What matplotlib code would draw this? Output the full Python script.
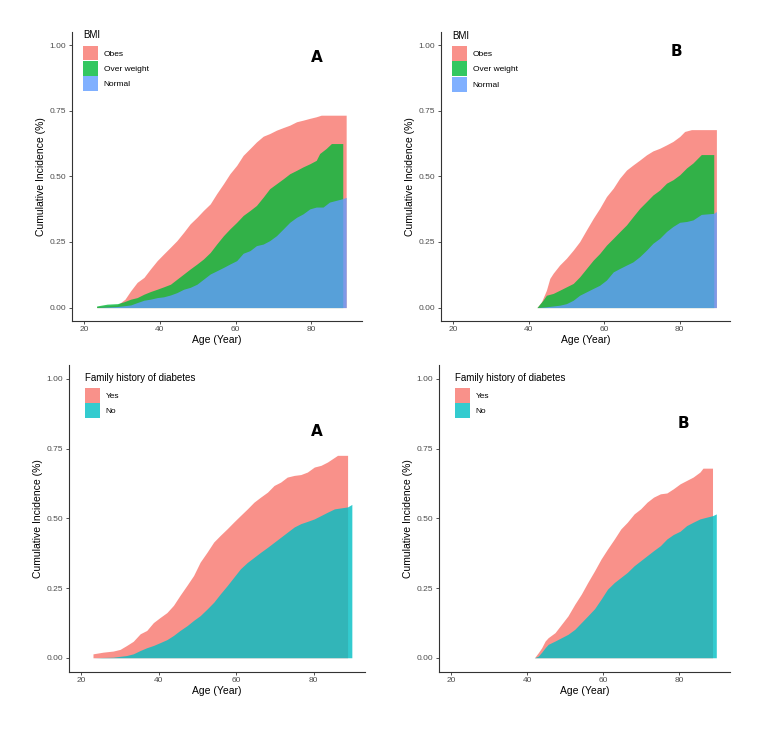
import matplotlib
matplotlib.use("Agg")
from matplotlib import pyplot as plt
from matplotlib.patches import Patch

plt.rcParams['font.family'] = ['Liberation Sans', 'DejaVu Sans']

# ---- data ----
# top left, BMI, panel A
age_obes_a = [23.3, 28.8, 30.8, 32.3, 34.0, 35.8, 37.5, 39.3, 41.0, 42.8, 44.5, 46.3, 48.0, 49.8, 51.5,
              53.3, 55.0, 56.8, 58.5, 60.3, 62.0, 63.8, 65.5, 67.3, 69.0, 70.8, 72.6, 74.3, 76.1, 77.8,
              79.6, 81.3, 82.6, 89.2]
obes_a = [0.004, 0.010, 0.032, 0.064, 0.096, 0.115, 0.147, 0.179, 0.204, 0.230, 0.255, 0.287, 0.319,
          0.344, 0.370, 0.395, 0.434, 0.472, 0.510, 0.542, 0.580, 0.606, 0.631, 0.653, 0.663, 0.676,
          0.686, 0.695, 0.708, 0.714, 0.721, 0.727, 0.733, 0.733]
age_over_a = [23.3, 26.1, 28.8, 30.5, 32.3, 34.0, 35.8, 37.5, 39.3, 41.0, 42.8, 44.5, 46.3, 48.0, 49.8,
              51.5, 53.3, 55.0, 56.8, 58.5, 60.3, 62.0, 63.8, 65.5, 67.3, 69.0, 70.8, 72.6, 74.3, 76.1,
              77.8, 79.6, 81.3, 82.2, 83.9, 85.3, 88.3]
over_a = [0.006, 0.013, 0.015, 0.022, 0.032, 0.038, 0.051, 0.061, 0.070, 0.079, 0.089, 0.108, 0.128,
          0.147, 0.166, 0.185, 0.210, 0.242, 0.274, 0.300, 0.325, 0.351, 0.370, 0.389, 0.421, 0.453,
          0.472, 0.491, 0.510, 0.523, 0.536, 0.548, 0.561, 0.587, 0.606, 0.625, 0.625]
age_norm_a = [23.3, 28.8, 32.3, 34.0, 35.8, 37.5, 39.3, 41.0, 42.8, 44.5, 46.3, 48.0, 49.8, 51.5, 53.3,
              55.0, 56.8, 58.5, 60.3, 62.0, 63.8, 65.5, 67.3, 69.0, 70.8, 72.6, 74.3, 76.1, 77.8, 79.6,
              81.3, 83.1, 84.8, 88.3, 89.2]
norm_a = [0.0, 0.004, 0.010, 0.019, 0.028, 0.032, 0.038, 0.041, 0.048, 0.057, 0.070, 0.077, 0.089,
          0.108, 0.128, 0.140, 0.153, 0.166, 0.179, 0.207, 0.217, 0.236, 0.242, 0.255, 0.274, 0.300,
          0.325, 0.344, 0.357, 0.376, 0.383, 0.383, 0.402, 0.415, 0.420]

# top right, BMI, panel B
age_obes_b = [42.2, 43.4, 44.7, 45.6, 46.5, 48.2, 50.0, 51.8, 53.5, 55.3, 57.1, 58.8, 60.6, 62.4, 64.1,
              65.9, 67.6, 69.4, 71.2, 72.9, 74.7, 76.5, 78.2, 80.0, 81.3, 83.1, 89.7]
obes_b = [0.0, 0.022, 0.066, 0.111, 0.131, 0.162, 0.188, 0.219, 0.251, 0.296, 0.340, 0.378, 0.423,
          0.455, 0.493, 0.524, 0.543, 0.562, 0.582, 0.597, 0.607, 0.620, 0.633, 0.652, 0.671, 0.678, 0.678]
age_over_b = [42.2, 43.8, 44.7, 46.5, 48.2, 50.0, 51.8, 53.5, 55.3, 57.1, 58.8, 60.6, 62.4, 64.1, 65.9,
              67.6, 69.4, 71.2, 72.9, 74.7, 76.5, 78.2, 80.0, 81.8, 83.5, 85.7, 89.0]
over_b = [0.0, 0.028, 0.047, 0.054, 0.066, 0.079, 0.092, 0.117, 0.149, 0.181, 0.206, 0.238, 0.264,
          0.289, 0.315, 0.346, 0.378, 0.404, 0.429, 0.448, 0.474, 0.487, 0.506, 0.532, 0.551, 0.583, 0.583]
age_norm_b = [42.2, 44.7, 48.2, 50.0, 51.8, 53.5, 55.3, 57.1, 58.8, 60.6, 62.4, 64.1, 65.9, 67.6, 69.4,
              71.2, 72.9, 74.7, 76.5, 78.2, 80.0, 81.8, 83.5, 85.7, 89.0, 89.7]
norm_b = [0.0, 0.003, 0.009, 0.015, 0.028, 0.047, 0.060, 0.073, 0.085, 0.105, 0.136, 0.149, 0.162,
          0.174, 0.194, 0.219, 0.245, 0.264, 0.290, 0.309, 0.325, 0.328, 0.334, 0.355, 0.359, 0.366]

# bottom left, family history, panel A
age_yes_a = [23.0, 25.6, 28.2, 30.0, 31.7, 33.4, 35.2, 36.9, 38.6, 40.3, 42.1, 43.8, 45.5, 47.3, 49.0,
             50.7, 52.5, 54.2, 55.9, 57.7, 59.4, 61.1, 62.9, 64.6, 66.3, 68.1, 69.8, 71.5, 73.2, 75.0,
             76.7, 78.4, 80.2, 81.9, 83.6, 86.2, 88.8]
yes_a = [0.014, 0.020, 0.024, 0.030, 0.044, 0.059, 0.086, 0.098, 0.126, 0.144, 0.162, 0.188, 0.224,
         0.260, 0.295, 0.343, 0.379, 0.415, 0.439, 0.463, 0.487, 0.510, 0.534, 0.558, 0.576, 0.594,
         0.618, 0.630, 0.648, 0.654, 0.657, 0.666, 0.684, 0.690, 0.702, 0.726, 0.726]
age_no_a = [23.0, 28.2, 31.7, 33.4, 35.2, 36.9, 38.6, 40.3, 42.1, 43.8, 45.5, 47.3, 49.0, 50.7, 52.5,
            54.2, 55.9, 57.7, 59.4, 61.1, 62.9, 64.6, 66.3, 68.1, 69.8, 71.5, 73.2, 75.0, 76.7, 78.4,
            80.2, 81.9, 83.6, 85.4, 88.8, 89.9]
no_a = [0.0, 0.002, 0.008, 0.014, 0.026, 0.036, 0.044, 0.054, 0.065, 0.080, 0.098, 0.115, 0.134,
        0.151, 0.175, 0.199, 0.229, 0.259, 0.289, 0.319, 0.342, 0.360, 0.378, 0.396, 0.414, 0.432,
        0.450, 0.469, 0.481, 0.489, 0.498, 0.510, 0.522, 0.534, 0.541, 0.550]

# bottom right, family history, panel B
age_yes_b = [41.9, 42.9, 43.8, 44.7, 45.5, 47.3, 49.0, 50.7, 52.5, 54.2, 55.9, 57.7, 59.4, 61.1, 62.9,
             64.6, 66.3, 68.1, 69.8, 71.5, 73.2, 75.0, 76.7, 78.4, 80.2, 81.9, 83.6, 85.4, 86.2, 88.7]
yes_b = [0.0, 0.018, 0.036, 0.060, 0.072, 0.090, 0.120, 0.150, 0.192, 0.228, 0.270, 0.312, 0.354,
         0.390, 0.426, 0.462, 0.486, 0.516, 0.534, 0.558, 0.576, 0.588, 0.591, 0.606, 0.624, 0.636,
         0.648, 0.666, 0.680, 0.680]
age_no_b = [41.9, 42.9, 43.8, 44.7, 45.5, 47.3, 49.0, 50.7, 52.5, 54.2, 55.9, 57.7, 59.4, 61.1, 62.9,
            64.6, 66.3, 68.1, 69.8, 71.5, 73.2, 75.0, 76.7, 78.4, 80.2, 81.9, 83.6, 85.4, 88.8, 89.7]
no_b = [0.0, 0.006, 0.020, 0.036, 0.048, 0.060, 0.072, 0.084, 0.102, 0.126, 0.150, 0.176, 0.210,
        0.246, 0.270, 0.288, 0.306, 0.330, 0.348, 0.366, 0.384, 0.402, 0.426, 0.442, 0.454, 0.474,
        0.486, 0.498, 0.510, 0.516]

bmi_labels = ["Obes", "Over weight", "Normal"]
fam_labels = ["Yes", "No"]
yticks = [0.0, 0.25, 0.5, 0.75, 1.0]
xticks = [20, 40, 60, 80]

red = "#F8766D"
green = "#00BA38"
blue = "#619CFF"
teal = "#00BFC4"
alpha = 0.8

W, H = 772, 745
fig = plt.figure(figsize=(W / 100, H / 100), dpi=100)


def add_ax(left, top, right, bottom):
    return fig.add_axes([left / W, 1 - bottom / H, (right - left) / W, (bottom - top) / H])


def style(ax):
    for s in ["top", "right"]:
        ax.spines[s].set_visible(False)
    for s in ["left", "bottom"]:
        ax.spines[s].set_color("#333333")
        ax.spines[s].set_linewidth(0.8)
    ax.set_xlim(16.8, 93.3)
    ax.set_ylim(-0.05, 1.05)
    ax.set_xticks(xticks)
    ax.set_yticks(yticks)
    ax.set_yticklabels(["%.2f" % v for v in yticks])
    ax.tick_params(length=2.5, width=0.6, color="#333333", labelcolor="#4D4D4D",
                   labelsize=6, pad=1.5)
    ax.set_xlabel("Age (Year)", fontsize=7.5, labelpad=1.5)
    ax.set_ylabel("Cumulative Incidence (%)", fontsize=7.5, labelpad=3)


def legend(ax, handles, labels, title, x, y_title, y_keys):
    # title drawn on its own so the gap above the keys matches
    fig.text(x / W, 1 - y_title / H, title, fontsize=7, ha="left", va="baseline")
    ax.legend(handles, labels, loc="upper left",
              bbox_to_anchor=(x / W, 1 - y_keys / H), bbox_transform=fig.transFigure,
              frameon=False, fontsize=6, handlelength=1.8,
              handleheight=2.39, handletextpad=0.7, labelspacing=0.04,
              borderpad=0, borderaxespad=0)


bmi_handles = [Patch(facecolor=c, alpha=alpha, edgecolor="none") for c in [red, green, blue]]
fam_handles = [Patch(facecolor=c, alpha=alpha, edgecolor="none") for c in [red, teal]]

# top left
ax1 = add_ax(72, 32, 361.7, 320.7)
ax1.fill_between(age_obes_a, obes_a, color=red, alpha=alpha, lw=0)
ax1.fill_between(age_over_a, over_a, color=green, alpha=alpha, lw=0)
ax1.fill_between(age_norm_a, norm_a, color=blue, alpha=alpha, lw=0)
style(ax1)
legend(ax1, bmi_handles, bmi_labels, "BMI", 83, 38.5, 45.5)

# top right
ax2 = add_ax(441, 32, 730, 320.7)
ax2.fill_between(age_obes_b, obes_b, color=red, alpha=alpha, lw=0)
ax2.fill_between(age_over_b, over_b, color=green, alpha=alpha, lw=0)
ax2.fill_between(age_norm_b, norm_b, color=blue, alpha=alpha, lw=0)
style(ax2)
legend(ax2, bmi_handles, bmi_labels, "BMI", 452, 39, 46)

# bottom left
ax3 = add_ax(69, 365, 365, 671.7)
ax3.fill_between(age_yes_a, yes_a, color=red, alpha=alpha, lw=0)
ax3.fill_between(age_no_a, no_a, color=teal, alpha=alpha, lw=0)
style(ax3)
legend(ax3, fam_handles, fam_labels, "Family history of diabetes", 85, 381, 388)

# bottom right
ax4 = add_ax(439, 365, 730, 671.7)
ax4.fill_between(age_yes_b, yes_b, color=red, alpha=alpha, lw=0)
ax4.fill_between(age_no_b, no_b, color=teal, alpha=alpha, lw=0)
style(ax4)
legend(ax4, fam_handles, fam_labels, "Family history of diabetes", 455, 381, 388)

# panel letters
for lx, ly, t in [(317, 58, "A"), (676, 52, "B"), (317, 431, "A"), (683, 424, "B")]:
    fig.text(lx / W, 1 - ly / H, t, fontsize=11, fontweight="bold",
             ha="center", va="center", family=["DejaVu Sans"])

fig.savefig("out.png", dpi=100)
